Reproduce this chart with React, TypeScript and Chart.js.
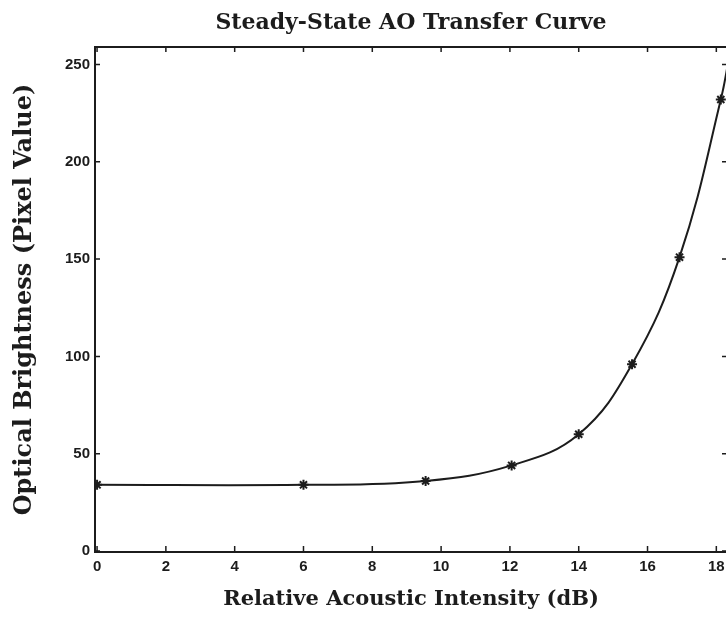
import React, { useEffect, useRef } from "react";
import { Chart, registerables } from "chart.js";

Chart.register(...registerables);

// Data
const intensityDb = [0, 6, 9.55, 12.05, 14, 15.55, 16.93, 18.13, 18.45];
const brightness = [34, 34, 36, 44, 60, 96, 151, 232, 262];
const markerShown = [true, true, true, true, true, true, true, true, false];
const xTickValues = [0, 2, 4, 6, 8, 10, 12, 14, 16, 18];
const yTickValues = [0, 50, 100, 150, 200, 250];

const titleText = "Steady-State AO Transfer Curve";
const xTitle = "Relative Acoustic Intensity (dB)";
const yTitle = "Optical Brightness (Pixel Value)";

const INK = "#1c1c1c";
const SERIF = "'DejaVu Serif', 'Liberation Serif', serif";
const SANS = "'Liberation Sans', Arial, sans-serif";

const framePlugin = {
  id: "frameTicks",
  afterDatasetsDraw(chart: any) {
    const { ctx, chartArea: a, scales } = chart;
    const xs = scales.x;
    const ys = scales.y;
    ctx.save();
    ctx.strokeStyle = INK;
    ctx.lineWidth = 2;
    ctx.strokeRect(a.left, a.top, a.right - a.left, a.bottom - a.top);
    ctx.lineWidth = 1.5;
    ctx.beginPath();
    for (const v of xTickValues) {
      const px = xs.getPixelForValue(v);
      ctx.moveTo(px, a.bottom);
      ctx.lineTo(px, a.bottom - 6);
      ctx.moveTo(px, a.top);
      ctx.lineTo(px, a.top + 5);
    }
    for (const v of yTickValues) {
      const py = ys.getPixelForValue(v);
      ctx.moveTo(a.left, py);
      ctx.lineTo(a.left + 5, py);
      ctx.moveTo(a.right, py);
      ctx.lineTo(a.right - 5, py);
    }
    ctx.stroke();
    ctx.restore();
  },
};

export default function App() {
  const ref = useRef<HTMLCanvasElement>(null);

  useEffect(() => {
    if (!ref.current) return;
    const chart = new Chart(ref.current, {
      type: "line",
      data: {
        datasets: [
          {
            data: intensityDb.map((x, i) => ({ x, y: brightness[i] })),
            borderColor: INK,
            backgroundColor: INK,
            borderWidth: 2,
            tension: 0.4,
            pointStyle: "star",
            pointRadius: markerShown.map((m) => (m ? 5 : 0)),
            pointBorderWidth: 2,
            pointBorderColor: INK,
            pointBackgroundColor: INK,
            fill: false,
          },
        ],
      },
      options: {
        responsive: false,
        animation: false,
        devicePixelRatio: 1,
        layout: { autoPadding: false, padding: { left: 0, right: 3, top: 0, bottom: 0 } },
        plugins: {
          legend: { display: false },
          tooltip: { enabled: false },
          title: {
            display: true,
            text: titleText,
            fullSize: false,
            color: INK,
            font: { family: SERIF, size: 22, weight: "bold", lineHeight: 1.2 },
            padding: { top: 10, bottom: 10.6 },
          },
        },
        scales: {
          x: {
            type: "linear",
            min: -0.06,
            max: 18.31,
            afterFit: (s: any) => {
              s.height = 68;
              s.paddingLeft = 0;
              s.paddingRight = 0;
            },
            afterBuildTicks: (s: any) => {
              s.ticks = xTickValues.map((value) => ({ value }));
            },
            grid: { display: false, drawTicks: false },
            border: { display: false },
            ticks: {
              color: INK,
              padding: 6,
              maxRotation: 0,
              autoSkip: false,
              font: { family: SANS, size: 15, weight: "bold" },
            },
            title: {
              display: true,
              text: xTitle,
              color: INK,
              font: { family: SERIF, size: 21, weight: "bold", lineHeight: 1.2 },
              padding: { top: 0, bottom: 7.4 },
            },
          },
          y: {
            type: "linear",
            min: -0.5,
            max: 259,
            afterFit: (s: any) => {
              s.width = 95;
              s.paddingTop = 0;
              s.paddingBottom = 0;
            },
            afterBuildTicks: (s: any) => {
              s.ticks = yTickValues.map((value) => ({ value }));
            },
            grid: { display: false, drawTicks: false },
            border: { display: false },
            ticks: {
              color: INK,
              padding: 5,
              autoSkip: false,
              font: { family: SANS, size: 15, weight: "bold" },
            },
            title: {
              display: true,
              text: yTitle,
              color: INK,
              font: { family: SERIF, size: 24, weight: "bold", lineHeight: 1.2 },
              padding: { top: 10, bottom: 0 },
            },
          },
        },
      },
      plugins: [framePlugin],
    } as any);
    return () => chart.destroy();
  }, []);

  return (
    <div
      style={{
        position: "fixed",
        left: 0,
        top: 0,
        width: 726,
        height: 620,
        overflow: "hidden",
        background: "#fff",
      }}
    >
      <canvas ref={ref} width={730} height={620} style={{ display: "block" }} />
    </div>
  );
}
